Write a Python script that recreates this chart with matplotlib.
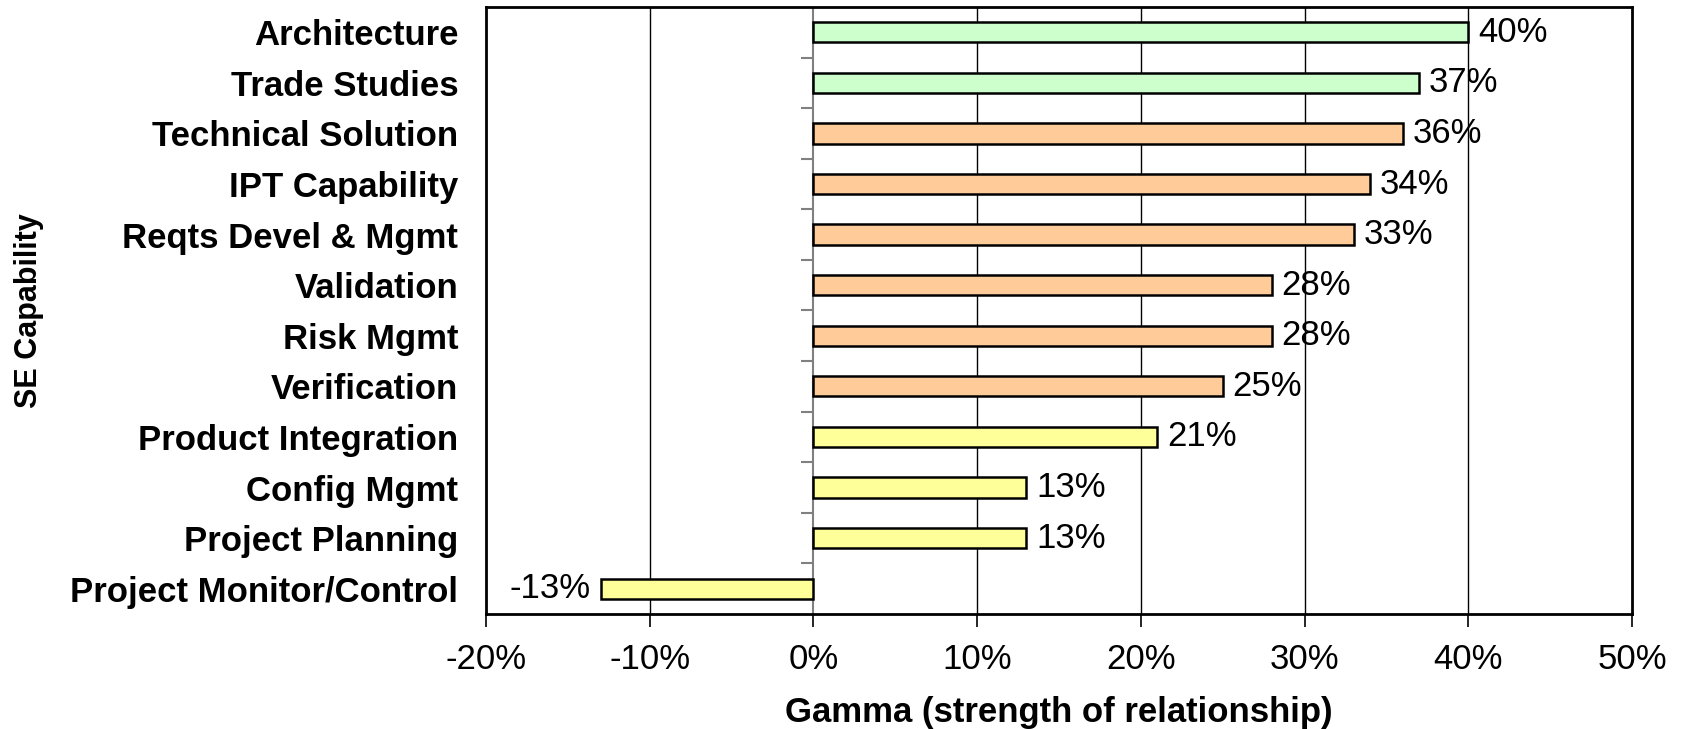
import matplotlib
matplotlib.use("Agg")
import matplotlib.pyplot as plt
from matplotlib.ticker import FuncFormatter

plt.rcParams['font.family'] = ['Liberation Sans', 'DejaVu Sans']

# categories top to bottom
capabilities = ['Architecture', 'Trade Studies', 'Technical Solution', 'IPT Capability',
                'Reqts Devel & Mgmt', 'Validation', 'Risk Mgmt', 'Verification',
                'Product Integration', 'Config Mgmt', 'Project Planning',
                'Project Monitor/Control']
gamma = [40, 37, 36, 34, 33, 28, 28, 25, 21, 13, 13, -13]
groups = ['strong', 'strong', 'moderate', 'moderate', 'moderate', 'moderate', 'moderate',
          'moderate', 'weak', 'weak', 'weak', 'weak']
group_colors = {'strong': '#CCFFCC', 'moderate': '#FFCC99', 'weak': '#FFFF99'}
x_ticks = [-20, -10, 0, 10, 20, 30, 40, 50]

fig = plt.figure(figsize=(16.84, 7.29), dpi=100)
ax = fig.add_axes([0.2886, 0.1578, 0.6805, 0.8326])

ypos = list(range(len(capabilities)))[::-1]
colors = [group_colors[g] for g in groups]
bars = ax.barh(ypos, gamma, height=0.4, color=colors, edgecolor='black', linewidth=1.8, zorder=3)
ax.bar_label(bars, labels=[f'{v}%' for v in gamma], padding=7, fontsize=25, zorder=4)

ax.set_xlim(-20, 50)
ax.set_ylim(-0.5, len(capabilities) - 0.5)
ax.set_xticks(x_ticks)
ax.xaxis.set_major_formatter(FuncFormatter(lambda v, p: f'{v:.0f}%'))
ax.tick_params(axis='x', labelsize=25, length=9, width=1.2, pad=12, color='black')
ax.set_yticks(ypos)
ax.set_yticklabels(capabilities, fontsize=25, fontweight='bold')
ax.tick_params(axis='y', length=0, pad=20)

for v in x_ticks[1:-1]:
    if v == 0:
        ax.axvline(v, color='#808080', linewidth=1.5, zorder=2)
    else:
        ax.axvline(v, color='black', linewidth=1.0, zorder=1)

for s in ax.spines.values():
    s.set_linewidth(2)
    s.set_color('black')

# small gray ticks between categories on the zero line
ax2 = ax.twinx()
ax2.set_ylim(ax.get_ylim())
ax2.yaxis.set_ticks_position('left')
ax2.spines['left'].set_position(('data', 0))
for s in ax2.spines.values():
    s.set_visible(False)
ax2.set_yticks([y + 0.5 for y in range(len(capabilities) - 1)])
ax2.set_yticklabels([])
ax2.tick_params(axis='y', length=9, width=1.5, color='#808080', direction='out')

ax.set_xlabel('Gamma (strength of relationship)', fontsize=25, fontweight='bold', labelpad=14)
ax.set_ylabel('SE Capability', fontsize=22, fontweight='bold')
ax.yaxis.set_label_coords(-0.386, 0.5)

fig.savefig('out.png', dpi=100)
